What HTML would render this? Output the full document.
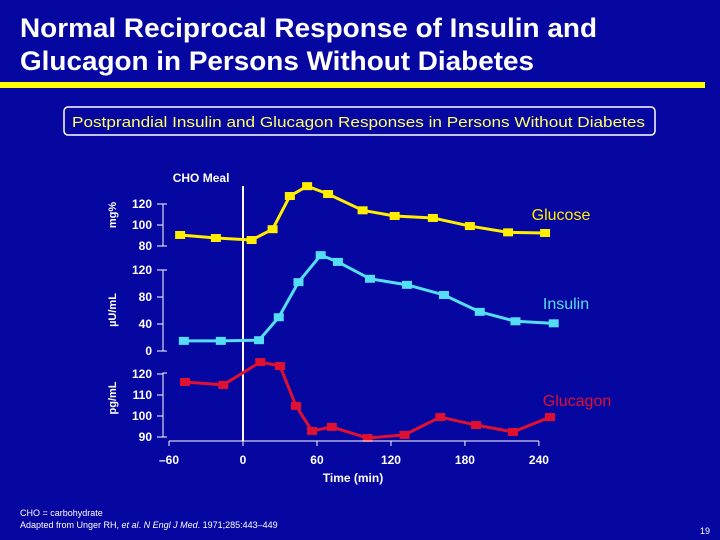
<!DOCTYPE html>
<html><head><meta charset="utf-8"><style>
html,body{margin:0;padding:0;background:#0606a0;}
svg{display:block;font-family:"Liberation Sans",Arial,sans-serif;}
</style></head><body>
<svg id="chart" width="720" height="540" viewBox="0 0 720 540" xmlns="http://www.w3.org/2000/svg">
<rect x="0" y="0" width="720" height="540" fill="#0606a0"/>
<text x="20" y="37" fill="#fff" font-size="27" font-weight="bold" textLength="577" lengthAdjust="spacingAndGlyphs">Normal Reciprocal Response of Insulin and</text>
<text x="20" y="70" fill="#fff" font-size="27" font-weight="bold" textLength="514" lengthAdjust="spacingAndGlyphs">Glucagon in Persons Without Diabetes</text>
<rect x="0" y="82" width="705" height="6" fill="#ffff00"/>
<rect x="64" y="107" width="591" height="28" rx="4" fill="none" stroke="#fff" stroke-width="1.5"/>
<text x="72" y="127" fill="#ffff66" font-size="15" textLength="573" lengthAdjust="spacingAndGlyphs">Postprandial Insulin and Glucagon Responses in Persons Without Diabetes</text>
<g id="plot"></g>
<text x="20" y="516" fill="#fff" font-size="9">CHO = carbohydrate</text>
<text x="20" y="528" fill="#fff" font-size="9">Adapted from Unger RH, <tspan font-style="italic">et al</tspan>. <tspan font-style="italic">N Engl J Med</tspan>. 1971;285:443–449</text>
<text x="710" y="534" fill="#fff" font-size="9" text-anchor="end">19</text>
</svg>
<script>
const xTicks = [-60, 0, 60, 120, 180, 240];
const glucoseTimes = [-51, -22, 7, 24, 38, 52, 69, 97, 123, 154, 184, 215, 245];
const glucoseValues = [90.5, 87.6, 85.7, 96, 127.6, 137, 129.5, 114, 108.6, 106.7, 99, 93, 92.4];
const glucoseTicks = [80, 100, 120];
const insulinTimes = [-48, -18, 13, 29, 45, 63, 77, 103, 133, 163, 192, 221, 252];
const insulinValues = [15, 15, 16, 50, 102, 142, 132, 107, 98, 83, 58, 44, 41];
const insulinTicks = [0, 40, 80, 120];
const glucagonTimes = [-47, -16, 14, 30, 43, 56, 72, 101, 131, 160, 189, 219, 249];
const glucagonValues = [116.2, 114.8, 125.7, 123.8, 104.8, 92.9, 94.8, 89.5, 91, 99.5, 95.7, 92.4, 99.5];
const glucagonTicks = [90, 100, 110, 120];

const NS = "http://www.w3.org/2000/svg";
const g = document.getElementById('plot');
function xs(t){ return 243 + (t) * 1.233; }
const panels = [
  {name:'glucose', times:glucoseTimes, vals:glucoseValues, ticks:glucoseTicks, color:'#ffee00', v0:100, y0:225, k:1.05, axTop:204, axBot:246, label:'Glucose', lx:561, ly:220, unit:'mg%', ux:116, uy:215},
  {name:'insulin', times:insulinTimes, vals:insulinValues, ticks:insulinTicks, color:'#55ddf5', v0:0, y0:351, k:0.675, axTop:270, axBot:351, label:'Insulin', lx:566, ly:309, unit:'µU/mL', ux:116, uy:310},
  {name:'glucagon', times:glucagonTimes, vals:glucagonValues, ticks:glucagonTicks, color:'#e01030', v0:90, y0:437, k:2.1, axTop:373, axBot:437, label:'Glucagon', lx:577, ly:406, unit:'pg/mL', ux:116, uy:398}
];
function mk(tag, attrs){ const e=document.createElementNS(NS,tag); for(const k in attrs) e.setAttribute(k,attrs[k]); g.appendChild(e); return e; }
let el = mk('line',{x1:xs(0),x2:xs(0),y1:186,y2:441,stroke:'#fff8e0','stroke-width':2});


el = mk('text',{x:xs(-57),y:182,fill:'#fff','font-size':12,'font-weight':'bold'}); el.textContent='CHO Meal';


panels.forEach(p=>{
  const ys = v => p.y0 - (v - p.v0) * p.k;
  let a = mk('polyline',{points:`167,${p.axTop} 163,${p.axTop} 163,${p.axBot} 167,${p.axBot}`,fill:'none',stroke:'#fff','stroke-width':1});
  
  
  p.ticks.forEach(t=>{
    const y=ys(t);
    const tl = mk('line',{x1:157,x2:163,y1:y,y2:y,stroke:'#fff','stroke-width':1});
    
    
    const tx = mk('text',{x:152,y:y+4,fill:'#fff','font-size':12,'font-weight':'bold','text-anchor':'end'});
    tx.textContent=t;
    
    
  });
  const ut = mk('text',{x:p.ux,y:p.uy,fill:'#fff','font-size':11,'font-weight':'bold','text-anchor':'middle',transform:`rotate(-90 ${p.ux} ${p.uy})`});
  ut.textContent=p.unit;
  
  
  const pts = p.times.map((t,i)=>xs(t)+','+ys(p.vals[i])).join(' ');
  const ln = mk('polyline',{points:pts,fill:'none',stroke:p.color,'stroke-width':3,'stroke-linejoin':'round'});
  
  
  p.times.forEach((t,i)=>{
    const m = mk('rect',{x:xs(t)-5,y:ys(p.vals[i])-4,width:10,height:8,fill:p.color});
    
    
  });
  const lb = mk('text',{x:p.lx,y:p.ly,fill:p.color,'font-size':16,'text-anchor':'middle'});
  lb.textContent=p.label;
  
  
});
el = mk('line',{x1:xs(-60),x2:xs(240),y1:441,y2:441,stroke:'#fff','stroke-width':1});


xTicks.forEach(t=>{
  const tl = mk('line',{x1:xs(t),x2:xs(t),y1:441,y2:446,stroke:'#fff','stroke-width':1});
  
  
  const tx = mk('text',{x:xs(t),y:464,fill:'#fff','font-size':12,'font-weight':'bold','text-anchor':'middle'});
  tx.textContent = t<0 ? '–'+Math.abs(t) : t;
  
  
});
el = mk('text',{x:353,y:482,fill:'#fff','font-size':12,'font-weight':'bold','text-anchor':'middle'}); el.textContent='Time (min)';


</script>
</body></html>
